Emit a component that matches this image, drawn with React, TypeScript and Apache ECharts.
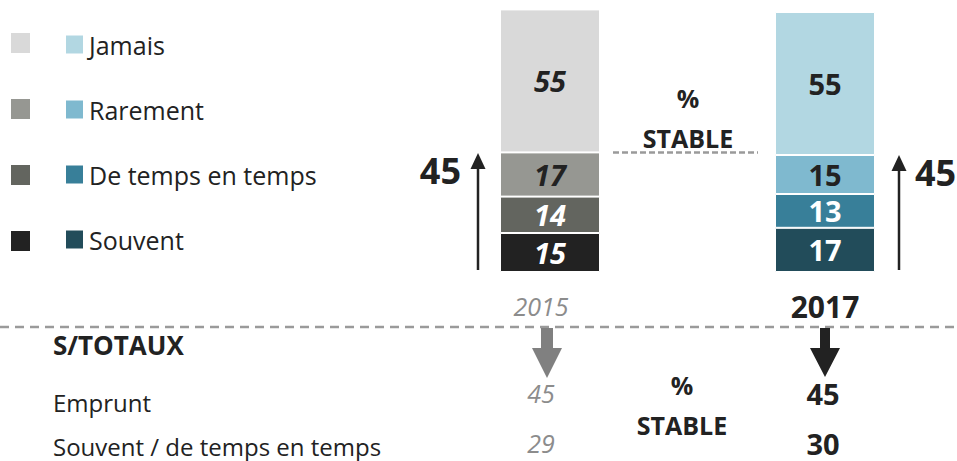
import React, { useEffect, useRef } from "react";
import * as echarts from "echarts";

const years = ["2015", "2017"];
const seriesNames = ["Souvent", "De temps en temps", "Rarement", "Jamais"];
const souvent = [15, 17];
const deTempsEnTemps = [14, 13];
const rarement = [17, 15];
const jamais = [55, 55];
const legendOrder = ["Jamais", "Rarement", "De temps en temps", "Souvent"];
const greyColors = ["#222222", "#63655f", "#969792", "#d9d9d9"];
const blueColors = ["#224c5a", "#387f99", "#7fb9cf", "#b2d7e2"];
const labelColors = ["#ffffff", "#ffffff", "#222222", "#222222"];
const subtotalTitle = "S/TOTAUX";
const subtotalRows = ["Emprunt", "Souvent / de temps en temps"];
const empruntTotals = [45, 45];
const souventTempsTotals = [29, 30];
const stableText = ["%", "STABLE"];

const FONT = "'Open Sans', 'Noto Sans', sans-serif";
const DARK = "#222222";
const GREY_TXT = "#8c8c8c";

export default function App() {
  const ref = useRef<HTMLDivElement>(null);

  useEffect(() => {
    if (!ref.current) return;
    const chart = echarts.init(ref.current, undefined, { renderer: "svg" });
    const values = [souvent, deTempsEnTemps, rarement, jamais];

    const series = values.map((vals, si) => ({
      name: seriesNames[si],
      type: "bar",
      stack: "total",
      barWidth: 100,
      clip: false,
      itemStyle: { color: blueColors[si], borderColor: "#ffffff", borderWidth: 1 },
      label: {
        show: true,
        position: "inside",
        color: labelColors[si],
        fontSize: 29,
        fontWeight: "bold",
        fontFamily: FONT,
      },
      data: vals.map((v, yi) => ({
        value: v,
        itemStyle: { color: yi === 0 ? greyColors[si] : blueColors[si] },
        label: { fontStyle: yi === 0 ? "italic" : "normal" },
      })),
    }));

    chart.setOption({
      animation: false,
      textStyle: { fontFamily: FONT },
      grid: { left: 550, right: 132, top: 9.4, bottom: 189 },
      legend: {
        data: legendOrder,
        orient: "vertical",
        left: 64,
        top: 32,
        padding: 0,
        itemWidth: 19,
        itemHeight: 20,
        itemGap: 40,
        icon: "rect",
        selectedMode: false,
        textStyle: { fontSize: 25, color: DARK, fontFamily: FONT },
      },
      xAxis: {
        type: "category",
        data: years,
        boundaryGap: false,
        axisLine: { show: false },
        axisTick: { show: false },
        splitLine: { show: false },
        axisLabel: {
          margin: 34,
          verticalAlign: "middle",
          formatter: (v: string, i: number) => (i === 0 ? `{a|${v}}` : `{b|${v}}`),
          rich: {
            a: { fontSize: 25, fontStyle: "italic", color: GREY_TXT, fontFamily: FONT, padding: [0, 18, 0, 0] },
            b: { fontSize: 30, fontWeight: "bold", color: DARK, fontFamily: FONT },
          },
        },
      },
      yAxis: { type: "value", min: 0, max: 101, show: false, splitLine: { show: false } },
      series,
    });

    const px = (i: number, v: number) => chart.convertToPixel({ gridIndex: 0 }, [i, v]) as number[];
    const graphics: any[] = [];

    // grey legend squares (2015 palette)
    legendOrder.forEach((name, r) => {
      const si = seriesNames.indexOf(name);
      graphics.push({
        type: "rect",
        shape: { x: 11, y: 33 + r * 66, width: 19, height: 20 },
        style: { fill: greyColors[si] },
      });
    });

    // up arrows with subtotal labels
    years.forEach((_, i) => {
      const lowerSum = souvent[i] + deTempsEnTemps[i] + rarement[i];
      const base = px(i, 0);
      const top = px(i, lowerSum);
      const ax = i === 0 ? base[0] - 72 : base[0] + 74;
      const tip = top[1] + (i === 0 ? 0.6 : 0);
      graphics.push({
        type: "line",
        shape: { x1: ax, y1: base[1] - 2, x2: ax, y2: tip + 12 },
        style: { stroke: DARK, lineWidth: 2.5 },
      });
      graphics.push({
        type: "polygon",
        shape: { points: [[ax, tip], [ax - 7.5, tip + 16], [ax + 7.5, tip + 16]] },
        style: { fill: DARK },
      });
      graphics.push({
        type: "text",
        style: {
          text: String(empruntTotals[i]),
          x: i === 0 ? ax - 17 : ax + 16,
          y: tip + 17,
          textAlign: i === 0 ? "right" : "left",
          textVerticalAlign: "middle",
          fontSize: 36,
          fontWeight: "bold",
          fontFamily: FONT,
          fill: DARK,
        },
      });
    });

    // top "% STABLE"
    graphics.push({
      type: "text",
      style: { text: stableText[0], x: 688, y: 98, textAlign: "center", textVerticalAlign: "middle", fontSize: 25, fontWeight: "bold", fontFamily: FONT, fill: DARK },
    });
    graphics.push({
      type: "text",
      style: { text: stableText[1], x: 688, y: 138, textAlign: "center", textVerticalAlign: "middle", fontSize: 25, fontWeight: "bold", fontFamily: FONT, fill: DARK },
    });
    const topDash = px(0, souvent[0] + deTempsEnTemps[0] + rarement[0]);
    graphics.push({
      type: "line",
      shape: { x1: 613, y1: topDash[1], x2: 758, y2: topDash[1] },
      style: { stroke: "#9a9a9a", lineWidth: 2.5, lineDash: [6, 3] },
    });

    // bottom separator
    graphics.push({
      type: "line",
      shape: { x1: 0, y1: 327, x2: 957, y2: 327 },
      style: { stroke: "#9a9a9a", lineWidth: 2.5, lineDash: [9, 6] },
    });

    // subtotal block
    graphics.push({
      type: "text",
      style: { text: subtotalTitle, x: 53, y: 345, textVerticalAlign: "middle", fontSize: 26, fontWeight: "bold", fontFamily: FONT, fill: DARK },
    });
    graphics.push({
      type: "text",
      style: { text: subtotalRows[0], x: 53, y: 402, textVerticalAlign: "middle", fontSize: 24, fontFamily: FONT, fill: DARK },
    });
    graphics.push({
      type: "text",
      style: { text: subtotalRows[1], x: 53, y: 446, textVerticalAlign: "middle", fontSize: 24, fontFamily: FONT, fill: DARK },
    });

    years.forEach((_, i) => {
      const c = px(i, 0)[0] + (i === 0 ? -9 : -2);
      const first = i === 0;
      const common = {
        textAlign: "center",
        textVerticalAlign: "middle",
        fontFamily: FONT,
        fontSize: first ? 25 : 29,
        fontWeight: first ? "normal" : "bold",
        fontStyle: first ? "italic" : "normal",
        fill: first ? GREY_TXT : DARK,
      };
      graphics.push({ type: "text", style: { ...common, text: String(empruntTotals[i]), x: c, y: 393 } });
      graphics.push({ type: "text", style: { ...common, text: String(souventTempsTotals[i]), x: c, y: 443 } });
      const ac = first ? c + 6 : c + 2;
      const sw = first ? 6 : 5;
      const hw = 15;
      graphics.push({
        type: "polygon",
        shape: {
          points: [
            [ac - sw, 328], [ac + sw, 328], [ac + sw, 348], [ac + hw, 348],
            [ac, first ? 378 : 377], [ac - hw, 348], [ac - sw, 348],
          ],
        },
        style: { fill: first ? "#808080" : DARK },
      });
    });

    graphics.push({
      type: "text",
      style: { text: stableText[0], x: 682, y: 385, textAlign: "center", textVerticalAlign: "middle", fontSize: 25, fontWeight: "bold", fontFamily: FONT, fill: DARK },
    });
    graphics.push({
      type: "text",
      style: { text: stableText[1], x: 682, y: 425, textAlign: "center", textVerticalAlign: "middle", fontSize: 25, fontWeight: "bold", fontFamily: FONT, fill: DARK },
    });

    chart.setOption({ graphic: graphics });

    return () => chart.dispose();
  }, []);

  return (
    <div
      ref={ref}
      style={{ position: "fixed", left: 0, top: 0, width: 957, height: 461, background: "#ffffff" }}
    />
  );
}
